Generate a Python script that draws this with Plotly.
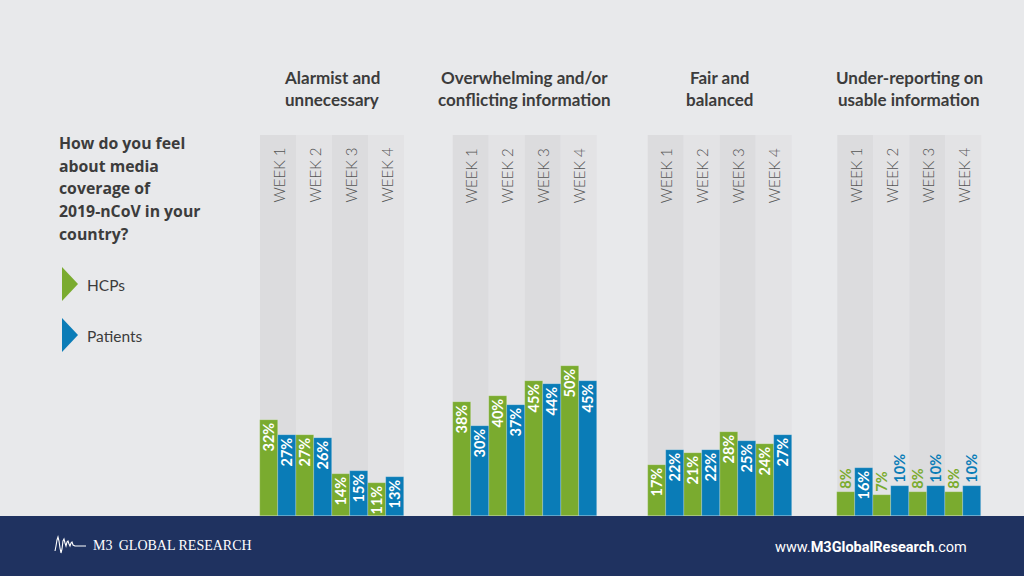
import plotly.graph_objects as go

# ---------------- data ----------------
groups = ["Alarmist and<br>unnecessary",
          "Overwhelming and/or<br>conflicting information",
          "Fair and<br>balanced",
          "Under-reporting on<br>usable information"]
weeks = ["WEEK 1", "WEEK 2", "WEEK 3", "WEEK 4"]
hcps = [[32, 27, 14, 11], [38, 40, 45, 50], [17, 21, 28, 24], [8, 7, 8, 8]]
patients = [[27, 26, 15, 13], [30, 37, 44, 45], [22, 22, 25, 27], [16, 10, 10, 10]]
question = "How do you feel<br>about media<br>coverage of<br>2019-nCoV in your<br>country?"
series_names = ["HCPs", "Patients"]

# ---------------- style / layout constants ----------------
W, H = 1024, 576
GREEN = "#7aab2f"
BLUE = "#0a7cb7"
BG = "#e8e9eb"
BAND_DARK = "#dcdcde"
BAND_LIGHT = "#e3e3e5"
NAVY = "#1f3260"
TEXT = "#3c3c3c"
FOOT_H = 60           # footer height px
PX_PER_PCT = 3.0
group_starts = [260, 452.7, 647.7, 837.3]
COL_W = 36
BAR_W = 18
BAND_TOP_PCT = 127
INSIDE_MIN = 11       # below this value, labels go outside


def py(p):
    """pixel y (from top) -> paper y"""
    return 1 - p / H


fig = go.Figure()

for s, (vals, color) in enumerate([(hcps, GREEN), (patients, BLUE)]):
    xs, ys, pos, tcol = [], [], [], []
    for g, gv in enumerate(vals):
        for k, v in enumerate(gv):
            xs.append(group_starts[g] + k * COL_W + s * BAR_W + BAR_W / 2)
            ys.append(v)
            inside = v >= INSIDE_MIN
            pos.append("inside" if inside else "outside")
            tcol.append("white" if inside else color)
    fig.add_trace(go.Bar(
        x=xs, y=ys, width=BAR_W, name=series_names[s],
        marker=dict(color=color, line=dict(color="rgba(255,255,255,0.35)", width=0.6)),
        texttemplate="%{y}%", textposition=pos, textangle=-90,
        insidetextanchor="end",
        textfont=dict(family="Lato", size=14.5, color=tcol, weight="bold"),
        cliponaxis=False, showlegend=False, hoverinfo="skip",
    ))

shapes = []
annotations = []
# background bands
for g, gx in enumerate(group_starts):
    for k in range(4):
        shapes.append(dict(type="rect", xref="x", yref="y", layer="below",
                           x0=gx + k * COL_W, x1=gx + (k + 1) * COL_W,
                           y0=0, y1=BAND_TOP_PCT, line=dict(width=0),
                           fillcolor=BAND_DARK if k % 2 == 0 else BAND_LIGHT))
        annotations.append(dict(x=gx + k * COL_W + COL_W / 2, y=py(146), xref="x", yref="paper",
                                text=weeks[k], textangle=-90, showarrow=False,
                                xanchor="center", yanchor="top",
                                font=dict(family="Lato", size=15, color="#555555", weight=300)))
    for li, line in enumerate(groups[g].split("<br>")):
        annotations.append(dict(x=gx + 2 * COL_W, y=py(77 + 22 * li), xref="x", yref="paper",
                                text=line, showarrow=False, xanchor="center", yanchor="middle",
                                font=dict(family="Lato", size=17, color=TEXT, weight="bold")))

# question text, one line at a time for the looser line spacing
for li, line in enumerate(question.split("<br>")):
    annotations.append(dict(x=57, y=py(143 + 22.7 * li), xref="x", yref="paper", text=line,
                            showarrow=False, xanchor="left", yanchor="middle", align="left",
                            font=dict(family="Open Sans", size=15.8, color=TEXT, weight="bold")))

# legend triangles + labels
for i, (name, color, cy) in enumerate([(series_names[0], GREEN, 284), (series_names[1], BLUE, 335)]):
    shapes.append(dict(type="path", xref="x", yref="paper", layer="above",
                       path=f"M62,{py(cy-17)} L78,{py(cy)} L62,{py(cy+17)} Z",
                       fillcolor=color, line=dict(width=0)))
    annotations.append(dict(x=85, y=py(cy + 1), xref="x", yref="paper", text=name,
                            showarrow=False, xanchor="left", yanchor="middle",
                            font=dict(family="Lato", size=15.5, color=TEXT)))

# footer
shapes.append(dict(type="rect", xref="paper", yref="paper", layer="above",
                   x0=0, x1=1, y0=0, y1=FOOT_H / H, fillcolor=NAVY, line=dict(width=0)))
squiggle = [(55, 551), (56, 546), (57, 540), (58, 537), (59, 541), (60, 548), (61, 553),
            (62, 549), (63, 541), (64, 539), (65, 543), (66, 546), (67, 542), (68, 541),
            (69, 544), (70, 546), (71, 543), (72, 542), (73, 545), (75, 546), (80, 546), (86, 546)]
shapes.append(dict(type="path", xref="x", yref="paper", layer="above",
                   path="M" + " L".join(f"{x},{py(y)}" for x, y in squiggle),
                   line=dict(color="white", width=1.1)))
annotations.append(dict(x=91, y=py(545.5), xref="x", yref="paper",
                        text="M3\u2009 GLOBAL RESEARCH", showarrow=False,
                        xanchor="left", yanchor="middle",
                        font=dict(family="Liberation Serif", size=14, color="white")))
annotations.append(dict(x=969, y=py(547), xref="x", yref="paper",
                        text="www.<b>M3GlobalResearch</b>.com", showarrow=False,
                        xanchor="right", yanchor="middle",
                        font=dict(family="Roboto", size=14.5, color="white")))

fig.update_layout(
    width=W, height=H, margin=dict(l=0, r=0, t=0, b=0),
    paper_bgcolor=BG, plot_bgcolor=BG,
    barmode="overlay", bargap=0,
    xaxis=dict(range=[0, W], visible=False, fixedrange=True),
    yaxis=dict(range=[0, (H - FOOT_H) / PX_PER_PCT], domain=[FOOT_H / H, 1],
               visible=False, fixedrange=True),
    shapes=shapes, annotations=annotations,
    uniformtext=dict(minsize=14.5, mode="show"),
    showlegend=False,
)

fig.write_html("out.html")
